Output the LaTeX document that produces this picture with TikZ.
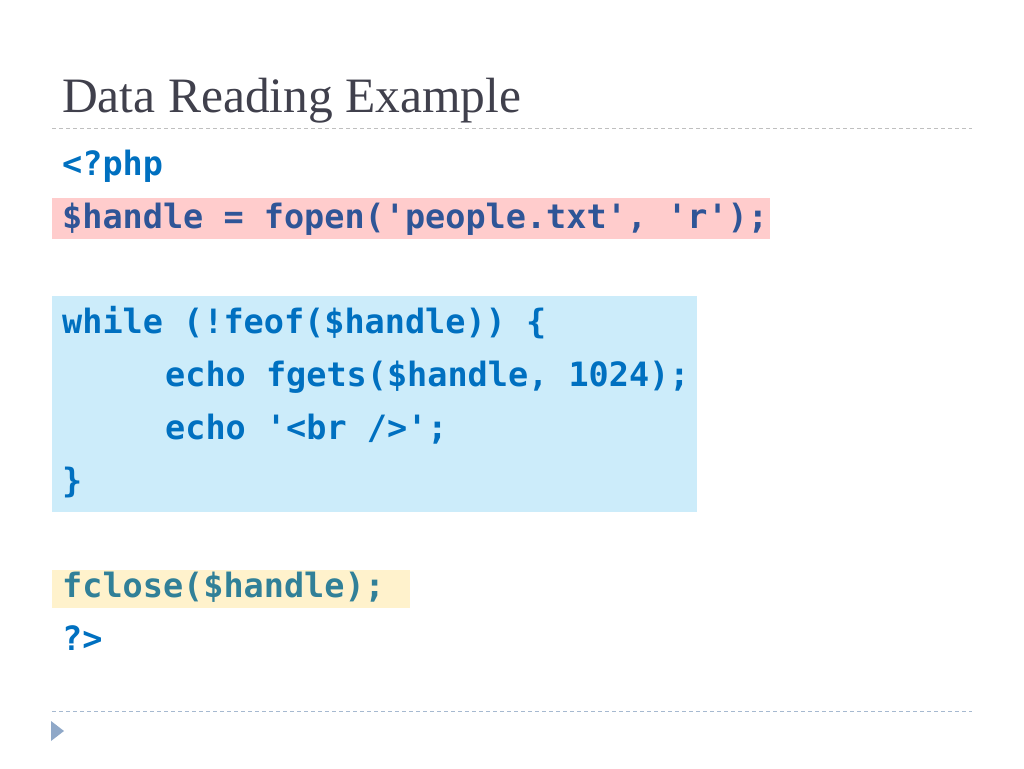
\documentclass[tikz,border=0pt]{standalone}
\usepackage{fontspec}
\newfontfamily\codefont{DejaVu Sans Mono}
\newfontfamily\titlefont{Liberation Serif}
\definecolor{codeblue}{RGB}{0,112,192}
\definecolor{pinktext}{RGB}{47,85,151}
\definecolor{tealtext}{RGB}{49,128,152}
\definecolor{pinkfill}{RGB}{255,204,204}
\definecolor{bluefill}{RGB}{204,236,250}
\definecolor{yellowfill}{RGB}{255,242,204}
\definecolor{titlegrey}{RGB}{64,64,76}
\definecolor{ruletop}{RGB}{191,191,191}
\definecolor{rulebot}{RGB}{166,185,208}
\definecolor{bulletblue}{RGB}{143,168,200}
\begin{document}
\begin{tikzpicture}[x=1pt,y=-1pt,
  codeline/.style={anchor=base west,inner sep=0pt,text=codeblue,
    font=\codefont\bfseries\fontsize{33.5}{40}\selectfont},
  slide rule/.style={dash pattern=on 4pt off 3pt,line width=1pt}]
        \useasboundingbox (0,0) rectangle (1024,768);
        
        \fill[pinkfill] (52,198) rectangle (770,239);
        \fill[bluefill] (52,296) rectangle (697,512);
        \fill[yellowfill] (52,570) rectangle (410,608);
        
        \node[anchor=base west,inner sep=0pt,text=titlegrey,
          font=\titlefont\fontsize{49.5}{56}\selectfont] (title) at (62,112) {Data Reading Example};
        \draw[slide rule,ruletop] (52,128) -- (972,128);
        \draw[slide rule,rulebot] (52,711) -- (972,711);
        \fill[bulletblue] (51,721) -- (64,731) -- (51,741) -- cycle;
        
        \node[codeline] (phpopen) at (62,175) {<?php};
        \node[codeline,text=pinktext] (fopenline) at (62,228) {\$handle = fopen('people.txt', 'r');};
        
        \node[codeline] (whileline) at (62,333) {while (!feof(\$handle)) \{};
        \node[codeline] (fgetsline) at (165,386) {echo fgets(\$handle, 1024);};
        \node[codeline] (brline) at (165,439) {echo '<br />';};
        \node[codeline] (closebrace) at (62,492) {\}};
        
        \node[codeline,text=tealtext] (fcloseline) at (62,597) {fclose(\$handle);};
        \node[codeline] (phpclose) at (62,650) {?>};
      \end{tikzpicture}
\end{document}
